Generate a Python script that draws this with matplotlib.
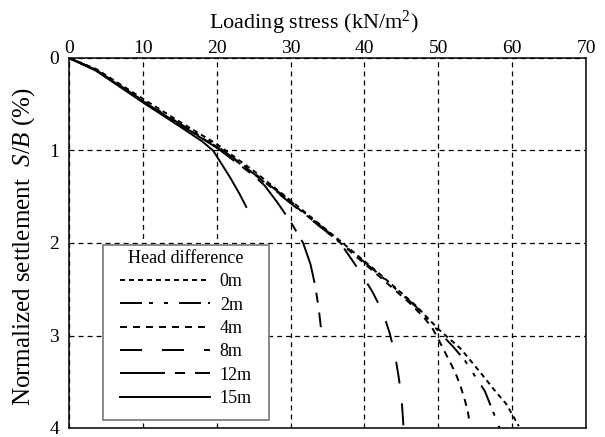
import matplotlib
matplotlib.use("Agg")
import matplotlib.pyplot as plt
from matplotlib.patches import Rectangle

plt.rcParams['font.family'] = ['Liberation Serif', 'DejaVu Serif']
plt.rcParams['mathtext.fontset'] = 'custom'
plt.rcParams['mathtext.rm'] = 'Liberation Serif'
plt.rcParams['mathtext.it'] = 'Liberation Serif:italic'
plt.rcParams['lines.scale_dashes'] = False

labels = ["0m", "2m", "4m", "8m", "12m", "15m"]

x_0m = [0, 3.7, 10, 15, 20, 25, 30, 36.9, 42, 47, 50, 53, 55.6, 56.5, 57.7, 59.2, 60.2, 60.9]
y_0m = [0, 0.12, 0.44, 0.69, 0.93, 1.22, 1.54, 1.99, 2.33, 2.68, 2.93, 3.14, 3.39, 3.48, 3.60, 3.74, 3.88, 3.98]

x_2m = [0, 3.7, 10, 15, 20, 25, 30, 36.9, 42, 47, 50, 52, 53.6, 55.3, 56.3, 57.3, 58.3]
y_2m = [0, 0.13, 0.46, 0.71, 0.95, 1.24, 1.55, 2.00, 2.34, 2.69, 2.95, 3.12, 3.27, 3.48, 3.60, 3.80, 4.00]

x_4m = [0, 3.7, 10, 15, 20, 25, 30, 36.9, 42, 46, 48, 49.2, 50.2, 50.9, 51.8, 52.5, 53.1, 53.6, 54.0, 54.2]
y_4m = [0, 0.13, 0.47, 0.72, 0.96, 1.25, 1.56, 2.01, 2.36, 2.64, 2.80, 2.92, 3.07, 3.18, 3.32, 3.44, 3.57, 3.70, 3.82, 3.92]

x_8m = [0, 3.7, 10, 15, 20, 25, 30, 36, 37, 38.2, 39.4, 41.1, 42.5, 43.4, 44.1, 44.6, 45.0, 45.2, 45.3]
y_8m = [0, 0.13, 0.47, 0.72, 0.96, 1.25, 1.57, 1.95, 2.03, 2.17, 2.31, 2.53, 2.75, 2.97, 3.19, 3.43, 3.65, 3.88, 4.00]

x_12m = [0, 3.7, 10, 15, 20, 25, 26.5, 28.2, 30, 31.7, 32.7, 33.3, 33.8, 34.1]
y_12m = [0, 0.13, 0.47, 0.72, 0.97, 1.27, 1.38, 1.56, 1.77, 2.00, 2.23, 2.45, 2.70, 2.91]

x_15m = [0, 3.7, 10, 15, 18, 19.5, 20.7, 21.8, 23.1, 24]
y_15m = [0, 0.14, 0.48, 0.74, 0.90, 1.00, 1.15, 1.29, 1.47, 1.61]

x_ticks = [0, 10, 20, 30, 40, 50, 60, 70]
y_ticks = [0, 1, 2, 3, 4]

series_x = [x_0m, x_2m, x_4m, x_8m, x_12m, x_15m]
series_y = [y_0m, y_2m, y_4m, y_8m, y_12m, y_15m]
px = 0.72
styles = [
    (0, (5 * px, 4 * px)),
    (0, (22 * px, 7 * px, 4 * px, 11 * px, 4 * px, 11 * px)),
    (0, (7 * px, 6 * px)),
    (0, (22 * px, 20 * px)),
    (0, (45 * px, 10 * px, 10 * px, 10 * px)),
    '-',
]

fig = plt.figure(figsize=(6.05, 4.37), dpi=100)
ax = fig.add_axes([69 / 605, 1 - 428 / 437, 517 / 605, 370 / 437])

for xs, ys, ls, lab in zip(series_x, series_y, styles, labels):
    ax.plot(xs, ys, color='black', lw=1.4, linestyle=ls, label=lab)

ax.set_xlim(0, 70)
ax.set_ylim(4, 0)
ax.set_xticks(x_ticks)
ax.set_yticks(y_ticks)
ax.xaxis.tick_top()
ax.xaxis.set_label_position('top')
ax.tick_params(axis='x', length=0, pad=1, labelsize=14)
ax.tick_params(axis='y', length=0, pad=7, labelsize=14)
ax.grid(True, color='black', lw=0.9, linestyle=(0, (3.6, 2.9)))
for s in ax.spines.values():
    s.set_linewidth(1.1)

ax.set_xlabel("Loading stress (kN/m$^2$)", fontsize=16)
ax.xaxis.set_label_coords(0.474, 1.078)
ax.set_ylabel("Normalized settlement  $S/B$ (%)", fontsize=18)
ax.yaxis.set_label_coords(-0.062, 0.49)

# legend frame
ax.add_patch(Rectangle((0.066, 0.0216), 0.321, 0.473, transform=ax.transAxes,
                       facecolor='white', edgecolor='#808080', lw=1.3, zorder=4))
leg = ax.legend(title="Head difference", fontsize=13, title_fontsize=13,
                loc='upper left', bbox_to_anchor=(0.0986, 0.481),
                borderaxespad=0, frameon=False, handlelength=4.98,
                handletextpad=0.55, labelspacing=0.35, borderpad=0)
leg.set_zorder(5)

fig.savefig("out.png", dpi=100)
